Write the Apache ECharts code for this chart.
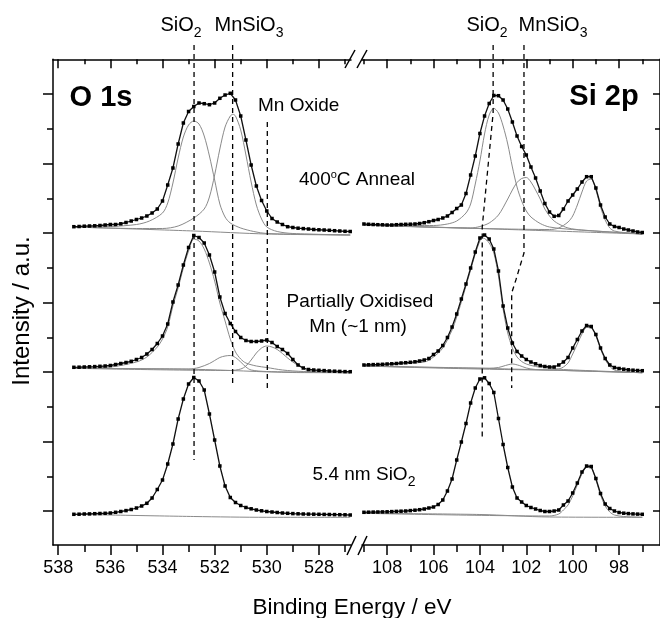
<!DOCTYPE html>
<html>
<head>
<meta charset="utf-8">
<title>XPS O 1s / Si 2p</title>
<script src="https://cdn.jsdelivr.net/npm/echarts@6/dist/echarts.min.js"></script>
<style>
  html, body { margin: 0; padding: 0; background: #fff; }
  #chart { width: 660px; height: 618px; }
</style>
</head>
<body>
<div id="chart"></div>
<script>
// ---- binding energy grids (eV) ----
const o1sEnergy = [537.4, 537.2, 537.0, 536.8, 536.6, 536.4, 536.2, 536.0, 535.8, 535.6,
  535.4, 535.2, 535.0, 534.8, 534.6, 534.4, 534.2, 534.0, 533.8, 533.6,
  533.4, 533.2, 533.0, 532.8, 532.6, 532.4, 532.2, 532.0, 531.8, 531.6,
  531.4, 531.2, 531.0, 530.8, 530.6, 530.4, 530.2, 530.0, 529.8, 529.6,
  529.4, 529.2, 529.0, 528.8, 528.6, 528.4, 528.2, 528.0, 527.8, 527.6,
  527.4, 527.2, 527.0, 526.8];
const si2pEnergy = [109.0, 108.8, 108.6, 108.4, 108.2, 108.0, 107.8, 107.6, 107.4, 107.2,
  107.0, 106.8, 106.6, 106.4, 106.2, 106.0, 105.8, 105.6, 105.4, 105.2,
  105.0, 104.8, 104.6, 104.4, 104.2, 104.0, 103.8, 103.6, 103.4, 103.2,
  103.0, 102.8, 102.6, 102.4, 102.2, 102.0, 101.8, 101.6, 101.4, 101.2,
  101.0, 100.8, 100.6, 100.4, 100.2, 100.0, 99.8, 99.6, 99.4, 99.2,
  99.0, 98.8, 98.6, 98.4, 98.2, 98.0, 97.8, 97.6, 97.4, 97.2, 97.0];

// ---- measured spectra (offset intensity, a.u.) ----
const o1sAnneal = [284.3, 284.5, 284.8, 285, 285.2, 285.5, 286, 286.5, 286.5, 287.2,
  288.5, 290, 291.5, 293, 295, 298, 302, 310, 326, 343,
  367, 388, 399.5, 404.5, 408, 407.3, 406.3, 408, 412.7, 416,
  417.7, 411, 395, 371, 346, 325, 310.5, 300, 292.5, 289,
  286.5, 284.3, 283.5, 282.8, 282.4, 282, 281.5, 281.2, 281, 280.7,
  280.3, 280, 279.7, 279.5];
const o1sPartial = [143.7, 143.8, 144, 144.2, 144.4, 144.7, 145, 145.5, 146.5, 147.5,
  148.5, 149.7, 151.5, 153.5, 157, 161.5, 167.5, 175, 187, 209,
  226, 246, 263.5, 275.5, 273.5, 268, 256, 239, 214, 197.5,
  187.5, 179.5, 173.5, 170.5, 169.5, 169.5, 170, 171, 168.5, 164.5,
  161.5, 157.5, 151.5, 146, 143, 141.5, 141, 140.7, 140.4, 140,
  139.8, 139.6, 139.4, 139.3];
const o1sThin = [-3.3, -3.2, -3, -2.9, -2.7, -2.5, -2.3, -2, -1.3, -0.5,
  0.4, 1.5, 3, 5, 7.7, 13, 21.5, 31, 47, 67,
  92, 112, 127, 133.5, 130, 121, 97, 71, 45, 25,
  13.5, 8.5, 5.5, 3.5, 2.2, 1, 0.2, -0.5, -1, -1.5,
  -2, -2.3, -2.6, -2.8, -3, -3.1, -3.2, -3.3, -3.4, -3.5,
  -3.6, -3.7, -3.8, -4];
const si2pAnneal = [287, 286.7, 286.5, 286.3, 286.2, 286, 286, 286.3, 286.5, 286.7,
  286.8, 287, 287.5, 288.3, 289.3, 290.5, 291.5, 293, 295, 298.5,
  302.5, 306, 317.5, 336, 355, 377.5, 395, 407.5, 415.5, 415.3,
  411, 402, 389, 375, 364.5, 356, 344, 333, 320, 307.5,
  299, 294.7, 295.5, 302, 310, 316, 322, 329, 334.3, 334.3,
  323, 306, 294, 287, 284.5, 283.5, 282, 281, 280, 279, 278.5];
const si2pPartial = [146, 146.2, 146.4, 146.5, 146.7, 147, 147.2, 147.5, 148, 148.3,
  148.7, 149.2, 150, 151, 152.5, 156.5, 160, 165.5, 173.5, 184,
  197, 212, 227, 243, 259, 273, 276, 272, 262, 240,
  205, 183, 168, 159.5, 155, 151.5, 149, 147.2, 145.5, 144.5,
  144, 144, 146, 149, 153.5, 163, 171.5, 180, 185.5, 184.5,
  176.5, 163, 152.5, 146, 143.5, 142.5, 141.8, 141.2, 140.8, 140.5, 140.3];
const si2pThin = [-1.3, -1.2, -1.1, -1, -0.9, -0.8, -0.6, -0.4, -0.2, 0,
  0.4, 0.8, 1.3, 2, 3, 4, 6.5, 11, 20, 32,
  51, 69, 87.5, 108, 123, 132, 133.2, 127.5, 118.5, 92.5,
  66.5, 43.5, 24, 13, 9, 5.5, 3.5, 2, 0.5, -0.5,
  -0.5, 0, 1, 6, 10, 18, 28, 39, 45, 44.5,
  32.5, 17.5, 7, 2.5, 0, -1.5, -2.2, -2.6, -2.9, -3.1, -3.3];

// ---- fitted components and backgrounds [eV, intensity] ----
const o1sAnnealBg = [[537.4, 284], [532.8, 280], [530, 277], [526.8, 276]];
const o1sAnnealSiO2 = [[537.4, 284], [536, 284.5], [535, 286.5], [534.5, 290], [534, 298], [533.8, 308],
  [533.6, 328], [533.4, 353], [533.2, 374], [533, 386], [532.8, 390], [532.6, 387], [532.4, 375],
  [532.2, 355], [532, 331], [531.8, 307], [531.6, 294], [531.4, 288], [531, 283], [530.5, 279.5],
  [530, 277.5], [528, 276.5], [526.8, 276]];
const o1sAnnealMnSiO3 = [[537.4, 284], [535, 282.5], [534, 282.5], [533.4, 285], [532.8, 293], [532.4, 302],
  [532.2, 314], [532, 336], [531.8, 362], [531.6, 384], [531.4, 395], [531.3, 396.7], [531.2, 395],
  [531, 381], [530.8, 356], [530.6, 329], [530.4, 306], [530.2, 292], [530, 284], [529.6, 279.5],
  [529, 277.5], [526.8, 276]];

const o1sPartialBg = [[537.4, 142.7], [532.8, 141.7], [529, 138.5], [526.8, 138.3]];
const o1sPartialSiO2 = [[537.4, 142.7], [536, 144], [535, 149], [534.6, 154], [534.2, 164], [534, 172],
  [533.8, 184], [533.6, 205], [533.4, 223], [533.2, 243], [533, 260], [532.8, 272], [532.6, 270],
  [532.4, 262], [532.2, 248], [532, 230], [531.8, 208], [531.6, 190], [531.4, 172], [531.2, 159],
  [531, 152], [530.8, 148], [530.4, 145], [530, 143.5], [529.4, 141], [528.6, 139.5], [526.8, 138.3]];
const o1sPartialMnSiO3 = [[537.4, 142.7], [533, 142], [532.6, 143.5], [532.2, 147.5], [532, 150.5],
  [531.8, 153.5], [531.6, 155], [531.4, 155.5], [531.2, 153.5], [531, 149], [530.8, 144], [530.6, 141],
  [530, 139.5], [526.8, 138.3]];
const o1sPartialMnOx = [[537.4, 142.7], [531.4, 140.5], [531, 142], [530.8, 145], [530.6, 151], [530.4, 158],
  [530.2, 163], [530, 165], [529.8, 164], [529.6, 161.5], [529.4, 157.5], [529.2, 153], [529, 149],
  [528.8, 145.5], [528.6, 142.5], [528.4, 140], [527.8, 138.8], [526.8, 138.3]];

const o1sThinBg = [[537.4, -3.3], [532.8, -5.5], [530, -6.3], [526.8, -6.3]];

const si2pAnnealBg = [[109, 286], [103.4, 282], [97, 277]];
const si2pAnnealSiO2 = [[109, 286], [106, 285.5], [105.4, 287], [105, 290], [104.6, 298], [104.4, 307],
  [104.2, 327], [104, 350], [103.8, 377], [103.6, 396], [103.4, 402.7], [103.2, 398], [103, 385],
  [102.8, 367], [102.6, 344], [102.4, 324], [102.2, 310], [102, 300], [101.8, 294], [101.4, 287.5],
  [101, 284], [100, 281.5], [97, 277]];
const si2pAnnealMnSiO3 = [[109, 286], [104.4, 283], [104, 284.5], [103.6, 288], [103.2, 296], [102.8, 312],
  [102.6, 321], [102.4, 328.5], [102.2, 332.5], [102, 333.5], [101.8, 329], [101.6, 321], [101.4, 312],
  [101.2, 302], [101, 295], [100.8, 290], [100.6, 287], [100.2, 283], [99.6, 281], [97, 277]];
const si2pAnnealSi = [[109, 286], [101, 281.5], [100.6, 283], [100.2, 289], [100, 295], [99.8, 306],
  [99.6, 319], [99.4, 330], [99.2, 332], [99, 321], [98.8, 304], [98.6, 291], [98.4, 283], [98.2, 280],
  [97.8, 278.5], [97, 277]];

const si2pPartialBg = [[109, 145], [103.9, 142.7], [97, 138.3]];
const si2pPartialSiO2 = [[109, 145], [106.4, 149], [106, 154], [105.6, 163], [105.2, 181], [105, 194],
  [104.8, 209], [104.6, 225], [104.4, 241], [104.2, 257], [104, 270], [103.9, 273], [103.8, 272.5],
  [103.6, 268], [103.4, 258], [103.2, 235], [103, 202], [102.8, 178], [102.6, 163], [102.4, 154],
  [102.2, 149.5], [102, 147], [101.6, 144.5], [101, 143], [100.4, 141.5], [97, 138.3]];
const si2pPartialMnSiO3 = [[109, 145], [103.6, 142.8], [103.2, 143.5], [102.9, 145.5], [102.6, 147],
  [102.3, 145.5], [102, 143], [101.6, 141.5], [97, 138.3]];
const si2pPartialSi = [[109, 145], [101, 141], [100.6, 142], [100.4, 144], [100.2, 148], [100, 157],
  [99.8, 167], [99.6, 177], [99.4, 183.5], [99.2, 183], [99, 175], [98.8, 162], [98.6, 151.5],
  [98.4, 144.5], [98.2, 141], [97.8, 139.3], [97, 138.3]];

const si2pThinBg = [[109, -2.3], [104, -3.5], [101, -6], [97, -6.3]];
const si2pThinSi = [[109, -2.3], [101, -5], [100.6, -3], [100.4, 1], [100.2, 6], [100, 15], [99.8, 26],
  [99.6, 37], [99.4, 43.5], [99.2, 43], [99, 31], [98.8, 16], [98.6, 5], [98.4, -1], [98.2, -4],
  [97.8, -5.5], [97, -6.3]];

// ---- dashed peak-position guides [eV, intensity] ----
const o1sSiO2Guide = [[532.79, 466], [532.79, 51]];
const o1sMnSiO3Guide = [[531.31, 466], [531.31, 128]];
const o1sMnOxGuide = [[529.98, 389], [529.98, 119]];
const si2pSiO2Guide = [[103.43, 466], [103.43, 398], [103.9, 284], [103.9, 71]];
const si2pMnSiO3Guide = [[102.1, 466], [102.1, 258], [102.45, 231], [102.63, 218], [102.63, 123]];

// ---- axis ticks ----
const o1sMajorTicks = [538, 536, 534, 532, 530, 528];
const o1sMinorTicks = [537, 535, 533, 531, 529, 527];
const si2pMajorTicks = [108, 106, 104, 102, 100, 98];
const si2pMinorTicks = [109, 107, 105, 103, 101, 99, 97];
const yMajorTicks = [0, 69.5, 139, 208.5, 278, 347.5, 417];
const yMinorTicks = [34.75, 104.25, 173.75, 243.25, 312.75, 382.25];

const FONT = '"Liberation Sans", Arial, Helvetica, sans-serif';
const AXIS_COLOR = '#000';
const FIT_COLOR = '#8a8a8a';

const chart = echarts.init(document.getElementById('chart'), null, { renderer: 'canvas' });

const zip = (xs, ys) => xs.map((x, i) => [x, ys[i]]);

// one x axis layer (major or minor ticks) for a panel
function xLayer(grid, min, max, position, ticks, len, inside, showLine, labels) {
    return {
        type: 'value', gridIndex: grid, position, min, max, inverse: true,
        splitLine: { show: false },
        axisLine: { show: showLine, onZero: false, lineStyle: { color: AXIS_COLOR, width: 1.5 } },
        axisTick: { show: true, inside, length: len, customValues: ticks,
            lineStyle: { color: AXIS_COLOR, width: 1.5 } },
        axisLabel: labels ? {
            show: true, customValues: labels, margin: 14, color: '#000',
            fontSize: 18, fontFamily: FONT
        } : { show: false }
    };
}

function yLayer(grid, position, ticks, len, inside, showLine) {
    return {
        type: 'value', gridIndex: grid, position, min: -34, max: 451.7,
        splitLine: { show: false },
        axisLine: { show: showLine, onZero: false, lineStyle: { color: AXIS_COLOR, width: 1.5 } },
        axisTick: { show: true, inside, length: len, customValues: ticks,
            lineStyle: { color: AXIS_COLOR, width: 1.5 } },
        axisLabel: { show: false }
    };
}

const O1S_MIN = 526.77, O1S_MAX = 538.2;
const SI_MIN = 96.236, SI_MAX = 109.083;

function dataSeries(panel, ys) {
    const xs = panel === 0 ? o1sEnergy : si2pEnergy;
    return {
        type: 'line', xAxisIndex: panel === 0 ? 0 : 4, yAxisIndex: panel === 0 ? 0 : 2,
        data: zip(xs, ys), symbol: 'rect', symbolSize: 3.5, showSymbol: true,
        itemStyle: { color: '#000' }, lineStyle: { color: '#111', width: 1.3 },
        z: 5, silent: true
    };
}

function fitSeries(panel, pts) {
    return {
        type: 'line', xAxisIndex: panel === 0 ? 0 : 4, yAxisIndex: panel === 0 ? 0 : 2,
        data: pts, smooth: 0.3, symbol: 'none',
        lineStyle: { color: FIT_COLOR, width: 1 }, z: 3, silent: true
    };
}

function guideSeries(panel, pts) {
    return {
        type: 'line', xAxisIndex: panel === 0 ? 0 : 4, yAxisIndex: panel === 0 ? 0 : 2,
        data: pts, symbol: 'none', clip: false,
        lineStyle: { color: '#000', width: 1.3, type: [5, 4] }, z: 6, silent: true
    };
}

// rich text label helper
function label(x, y, text, size, opts = {}) {
    return {
        type: 'text', x, y, silent: true, z: 20,
        style: {
            text, fill: '#000', fontSize: size, fontFamily: FONT,
            fontWeight: opts.bold ? 'bold' : 'normal',
            align: opts.align || 'center', verticalAlign: 'middle',
            lineHeight: opts.lineHeight || size,
            rich: {
                s: { fontSize: 14, fontFamily: FONT, lineHeight: 10, verticalAlign: 'bottom', fill: '#000' },
                o: { fontSize: 11, fontFamily: FONT, lineHeight: 11, verticalAlign: 'top', fill: '#000' }
            }
        }
    };
}

function slash(x1, y1, x2, y2) {
    return { type: 'line', silent: true, z: 20,
        shape: { x1, y1, x2, y2 }, style: { stroke: '#000', lineWidth: 1.5 } };
}

const option = {
    backgroundColor: '#fff',
    animation: false,
    grid: [
        { left: 53, top: 59.3, width: 298, height: 485.7 },
        { left: 362, top: 59.3, width: 300, height: 485.7 }
    ],
    xAxis: [
        xLayer(0, O1S_MIN, O1S_MAX, 'bottom', o1sMajorTicks, 10, false, true, o1sMajorTicks),
        xLayer(0, O1S_MIN, O1S_MAX, 'bottom', o1sMinorTicks, 7, false, false),
        xLayer(0, O1S_MIN, O1S_MAX, 'top', o1sMajorTicks, 9, true, true),
        xLayer(0, O1S_MIN, O1S_MAX, 'top', o1sMinorTicks, 5, true, false),
        xLayer(1, SI_MIN, SI_MAX, 'bottom', si2pMajorTicks, 10, false, true, si2pMajorTicks),
        xLayer(1, SI_MIN, SI_MAX, 'bottom', si2pMinorTicks, 7, false, false),
        xLayer(1, SI_MIN, SI_MAX, 'top', si2pMajorTicks, 9, true, true),
        xLayer(1, SI_MIN, SI_MAX, 'top', si2pMinorTicks, 5, true, false)
    ],
    yAxis: [
        yLayer(0, 'left', yMajorTicks, 10, false, true),
        yLayer(0, 'left', yMinorTicks, 6, false, false),
        yLayer(1, 'right', yMajorTicks, 7, true, true),
        yLayer(1, 'right', yMinorTicks, 5, true, false)
    ],
    series: [
        // O 1s
        fitSeries(0, o1sAnnealBg), fitSeries(0, o1sAnnealSiO2), fitSeries(0, o1sAnnealMnSiO3),
        fitSeries(0, o1sPartialBg), fitSeries(0, o1sPartialSiO2), fitSeries(0, o1sPartialMnSiO3),
        fitSeries(0, o1sPartialMnOx), fitSeries(0, o1sThinBg),
        dataSeries(0, o1sAnneal), dataSeries(0, o1sPartial), dataSeries(0, o1sThin),
        guideSeries(0, o1sSiO2Guide), guideSeries(0, o1sMnSiO3Guide), guideSeries(0, o1sMnOxGuide),
        // Si 2p
        fitSeries(1, si2pAnnealBg), fitSeries(1, si2pAnnealSiO2), fitSeries(1, si2pAnnealMnSiO3),
        fitSeries(1, si2pAnnealSi), fitSeries(1, si2pPartialBg), fitSeries(1, si2pPartialSiO2),
        fitSeries(1, si2pPartialMnSiO3), fitSeries(1, si2pPartialSi), fitSeries(1, si2pThinBg),
        fitSeries(1, si2pThinSi),
        dataSeries(1, si2pAnneal), dataSeries(1, si2pPartial), dataSeries(1, si2pThin),
        guideSeries(1, si2pSiO2Guide), guideSeries(1, si2pMnSiO3Guide)
    ],
    graphic: [
        label(181, 25, 'SiO{s|2}', 20, { lineHeight: 30 }),
        label(249, 25, 'MnSiO{s|3}', 20, { lineHeight: 30 }),
        label(487, 25, 'SiO{s|2}', 20, { lineHeight: 30 }),
        label(553, 25, 'MnSiO{s|3}', 20, { lineHeight: 30 }),
        label(101, 98, 'O 1s', 29, { bold: true }),
        label(604, 97, 'Si 2p', 29, { bold: true }),
        label(258, 106, 'Mn Oxide', 19, { align: 'left' }),
        label(357, 180, '400{o|o}C Anneal', 19, { lineHeight: 22 }),
        label(360, 302, 'Partially Oxidised', 19),
        label(358, 327, 'Mn (~1 nm)', 19),
        label(364, 475, '5.4 nm SiO{s|2}', 19, { lineHeight: 28 }),
        label(352, 608, 'Binding Energy / eV', 22.5),
        { type: 'text', x: 22, y: 311, rotation: Math.PI / 2, silent: true,
          style: { text: 'Intensity / a.u.', fill: '#000', fontSize: 24, fontFamily: FONT,
                   align: 'center', verticalAlign: 'middle' } },
        // axis break marks
        slash(345, 68, 355, 50), slash(357, 68, 367, 50),
        slash(347, 555, 356, 536), slash(358, 555, 367, 536)
    ]
};

chart.setOption(option);
</script>
</body>
</html>
